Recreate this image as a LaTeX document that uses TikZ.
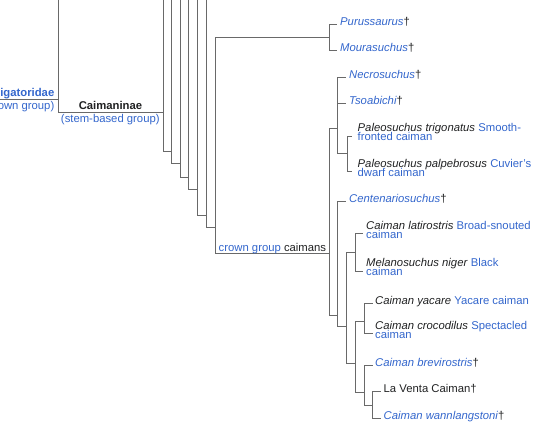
\documentclass[tikz,border=0pt]{standalone}
\usepackage{fontspec}
\setmainfont{Liberation Sans}
\definecolor{lk}{RGB}{51,102,204}
\definecolor{tx}{RGB}{32,33,34}
\definecolor{ln}{RGB}{105,105,105}
\newcommand\mytightlines{\lineskiplimit=-20pt\relax\lineskip=0pt\relax}
\begin{document}
\begin{tikzpicture}[x=1pt,y=-1pt,
  br/.style={draw=ln,line width=0.9pt},
  lbl/.style={anchor=base west,inner sep=0pt,text=tx,align=left,font=\fontsize{11.3}{9}\selectfont\mytightlines},
  lblr/.style={lbl,anchor=base east,align=right},
  lblc/.style={lbl,anchor=base,align=center}]
\useasboundingbox (0,0) rectangle (540,432);
% ---- junction coordinates ----
\coordinate (aL) at (-5,99);
\coordinate (aJ) at (58,99);
\coordinate (aT) at (58,-5);
\coordinate (J1) at (163,112);   \coordinate (t1) at (163,-5);
\coordinate (J2) at (171.3,151); \coordinate (t2) at (171.3,-5);
\coordinate (J3) at (180.3,163.7); \coordinate (t3) at (180.3,-5);
\coordinate (J4) at (188.7,177); \coordinate (t4) at (188.7,-5);
\coordinate (J5) at (197.7,189.3); \coordinate (t5) at (197.7,-5);
\coordinate (J6) at (206,215.3); \coordinate (t6) at (206,-5);
\coordinate (J7) at (215.3,227.7);
\coordinate (JP) at (329.3,37.7);
\coordinate (JC) at (329.3,253.3);
\coordinate (JN) at (337.5,128.3);
\coordinate (JPal) at (347.7,153.7);
\coordinate (JB) at (337.5,315);
\coordinate (JCc) at (346.5,326.7);
\coordinate (JD) at (355,252.5);
\coordinate (JE) at (355,363.3);
\coordinate (JF) at (364.3,321.7);
\coordinate (JG) at (364.3,392.5);
\coordinate (JH) at (372.7,405);
% ---- leaf stub ends ----
\coordinate (sPuru) at (336.5,24.3);
\coordinate (sMoura) at (336.5,50.7);
\coordinate (sNecro) at (345.5,77.3);
\coordinate (sTsoa) at (345.5,103.3);
\coordinate (sTrig) at (352,136);
\coordinate (sPalp) at (352,171.3);
\coordinate (sCent) at (345.5,201.7);
\coordinate (sLati) at (363,233.3);
\coordinate (sMela) at (363,271);
\coordinate (sYac) at (372.5,303.3);
\coordinate (sCroc) at (372.5,333.3);
\coordinate (sBrev) at (372.5,365.7);
\coordinate (sLaV) at (380.5,391.7);
\coordinate (sWann) at (380.5,418.3);
% ---- branches ----
\draw[br] (aL) -- (aJ);
\draw[br] (aT) |- (J1);
\foreach \b/\c in {t1/J2,t2/J3,t3/J4,t4/J5,t5/J6,t6/J7}{
  \draw[br] (\b) |- (\c);
}
\draw[br] (J7) |- (JP);
\draw[br] (J7) |- (JC);
\draw[br] (JP) |- (sPuru);
\draw[br] (JP) |- (sMoura);
\draw[br] (JC) |- (JN);
\draw[br] (JC) |- (JB);
\draw[br] (JN) |- (sNecro);
\draw[br] (JN) |- (sTsoa);
\draw[br] (JN) |- (JPal);
\draw[br] (JPal) |- (sTrig);
\draw[br] (JPal) |- (sPalp);
\draw[br] (JB) |- (sCent);
\draw[br] (JB) |- (JCc);
\draw[br] (JCc) |- (JD);
\draw[br] (JCc) |- (JE);
\draw[br] (JD) |- (sLati);
\draw[br] (JD) |- (sMela);
\draw[br] (JE) |- (JF);
\draw[br] (JE) |- (JG);
\draw[br] (JF) |- (sYac);
\draw[br] (JF) |- (sCroc);
\draw[br] (JG) |- (sBrev);
\draw[br] (JG) |- (JH);
\draw[br] (JH) |- (sLaV);
\draw[br] (JH) |- (sWann);
% ---- left labels ----
\node[lblr] (alli) at (54.5,96.5) {\bfseries\color{lk}Alligatoridae};
\node[lblr] (crowng) at (54.5,109) {\color{lk}(crown group)};
\node[lblc] (caim) at (110.5,109) {\bfseries Caimaninae};
\node[lblc] (stem) at (110.3,122) {\color{lk}(stem-based group)};
\node[lbl] (cgc) at (218.5,251.5) {{\color{lk}crown group} caimans};
% ---- leaf labels (two-line labels are anchored at their last line) ----
\node[lbl] (puru) at (340,25.3) {{\color{lk}\itshape Purussaurus}†};
\node[lbl] (moura) at (340,51.7) {{\color{lk}\itshape Mourasuchus}†};
\node[lbl] (necro) at (349,78.3) {{\color{lk}\itshape Necrosuchus}†};
\node[lbl] (tsoa) at (349,104.3) {{\color{lk}\itshape Tsoabichi}†};
\node[lbl] (trig) at (357.5,140) {\textit{Paleosuchus trigonatus} {\color{lk}Smooth-}\\{\color{lk}fronted caiman}};
\node[lbl] (palp) at (357.5,176) {\textit{Paleosuchus palpebrosus} {\color{lk}Cuvier's}\\{\color{lk}dwarf caiman}};
\node[lbl] (cent) at (349,202.7) {{\color{lk}\itshape Centenariosuchus}†};
\node[lbl] (lati) at (366,238.8) {\textit{Caiman latirostris} {\color{lk}Broad-snouted}\\{\color{lk}caiman}};
\node[lbl] (mela) at (366,275.3) {\textit{Melanosuchus niger} {\color{lk}Black}\\{\color{lk}caiman}};
\node[lbl] (yac) at (375,304.1) {\textit{Caiman yacare} {\color{lk}Yacare caiman}};
\node[lbl] (croc) at (375,338) {\textit{Caiman crocodilus} {\color{lk}Spectacled}\\{\color{lk}caiman}};
\node[lbl] (brev) at (375,366.5) {{\color{lk}\itshape Caiman brevirostris}†};
\node[lbl] (lav) at (383.5,392.5) {La Venta Caiman†};
\node[lbl] (wann) at (383.5,419.1) {{\color{lk}\itshape Caiman wannlangstoni}†};
\end{tikzpicture}
\end{document}
